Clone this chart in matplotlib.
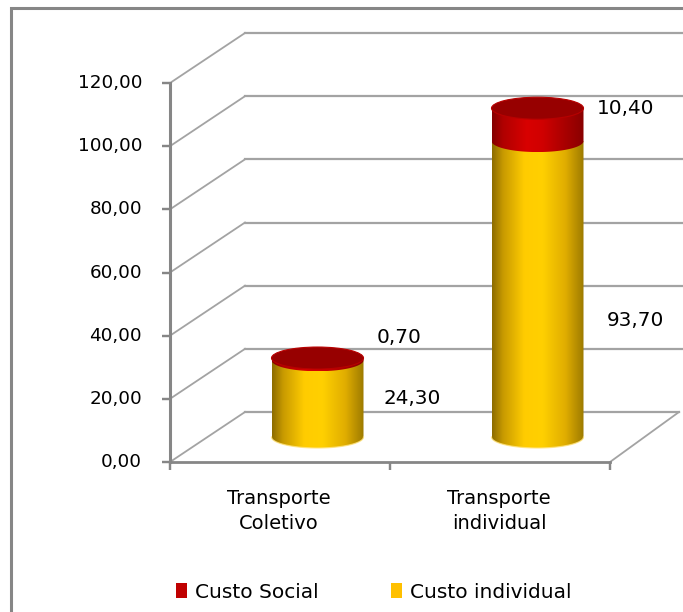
import numpy as np
import matplotlib.pyplot as plt
from matplotlib.patches import Polygon, Ellipse, Rectangle
from matplotlib.colors import LinearSegmentedColormap

# Custo por passageiro: individual + social
categorias = ['Transporte\nColetivo', 'Transporte\nindividual']
custo_individual = [24.30, 93.70]
custo_social = [0.70, 10.40]
y_ticks = [0, 20, 40, 60, 80, 100, 120]
legenda = ['Custo Social', 'Custo individual']

plt.rcParams['font.family'] = ['DejaVu Sans']

fig = plt.figure(figsize=(6.83, 6.12), dpi=100)
ax = fig.add_axes([170 / 683, 150 / 612, 440 / 683, 379 / 612])
n = len(categorias)
ax.set_xlim(0, n)
ax.set_ylim(0, 120)
ax.axis('off')

# pixel -> data helpers (fixed axes box)
sx = ax.bbox.width / n
sy = ax.bbox.height / 120
DX, DY = 75 / sx, 50 / sy          # depth of the 3D box
RX, RY = 46 / sx, 11 / sy          # cylinder radii

grid_c = '#a3a3a3'
axis_c = '#868686'

# back wall gridlines + left wall diagonals
for v in y_ticks:
    x_end = n + DX * 0.92 if v == 0 else n + DX
    ax.plot([DX, x_end], [v + DY, v + DY], color=grid_c, lw=1.6,
            clip_on=False, zorder=1)
    ax.plot([0, DX], [v, v + DY], color=grid_c, lw=1.3, clip_on=False, zorder=1)
    ax.plot([0, 0], [v, v], marker=0, ms=6, mew=1.6, color=axis_c, clip_on=False)
    ax.annotate(f'{v:.2f}'.replace('.', ','), (0, v), xytext=(-28, 0),
                textcoords='offset pixels', ha='right', va='center', fontsize=13.2)

# floor edges and front axis
ax.plot([0, n], [0, 0], color=axis_c, lw=2, clip_on=False, zorder=2)
ax.plot([n, n + DX * 0.92], [0, DY], color=grid_c, lw=1.3, clip_on=False, zorder=1)
ax.plot([0, 0], [0, 120], color=axis_c, lw=2.2, clip_on=False, zorder=2)
for k in range(n + 1):
    ax.plot([k, k], [0, 0], marker=3, ms=6, mew=1.6, color=axis_c, clip_on=False)

amarelo = LinearSegmentedColormap.from_list('amarelo', [
    (0.0, '#8c6c00'), (0.12, '#c89a00'), (0.35, '#ffcc00'), (0.55, '#ffd000'),
    (0.8, '#e0ad00'), (1.0, '#9c7a00')])
vermelho = LinearSegmentedColormap.from_list('vermelho', [
    (0.0, '#840000'), (0.12, '#b00000'), (0.38, '#d80000'), (0.55, '#d00000'),
    (0.8, '#a80000'), (1.0, '#880000')])
grad = np.linspace(0, 1, 256).reshape(1, -1)


def cilindro(xc, ya, yb, cmap, rim=None):
    t = np.linspace(np.pi, 2 * np.pi, 80)
    lower = np.column_stack([xc + RX * np.cos(t), ya + RY * np.sin(t)])
    verts = np.vstack([[xc - RX, yb], lower, [xc + RX, yb]])
    body = Polygon(verts, closed=True, fc='none', ec='none')
    ax.add_patch(body)
    im = ax.imshow(grad, cmap=cmap, extent=[xc - RX, xc + RX, ya - RY, yb + RY],
                   aspect='auto', zorder=3, interpolation='bilinear')
    im.set_clip_path(body)
    if rim:
        ax.plot(lower[:, 0], lower[:, 1], color=rim, lw=0.9, alpha=0.8, zorder=3.5)


for i, (ind, soc) in enumerate(zip(custo_individual, custo_social)):
    xc = i + 0.5 + DX / 2
    y0 = DY / 2
    cilindro(xc, y0, y0 + ind, amarelo, rim='#ffe27a')
    cilindro(xc, y0 + ind, y0 + ind + soc, vermelho)
    ax.add_patch(Ellipse((xc, y0 + ind + soc), 2 * RX, 2 * RY, fc='#970000',
                         ec='#b80000', lw=0.8, zorder=4))

# value labels
offsets_ind = [(95, 0), (98, -31)]
offsets_soc = [(82, 22), (88, 16)]
for i, (ind, soc) in enumerate(zip(custo_individual, custo_social)):
    xc = i + 0.5 + DX / 2
    y0 = DY / 2
    ax.annotate(f'{ind:.2f}'.replace('.', ','), (xc, y0 + ind / 2),
                xytext=offsets_ind[i], textcoords='offset pixels',
                ha='center', va='center', fontsize=14.4, zorder=5)
    ax.annotate(f'{soc:.2f}'.replace('.', ','), (xc, y0 + ind + soc / 2),
                xytext=offsets_soc[i], textcoords='offset pixels',
                ha='center', va='center', fontsize=14.4, zorder=5)

# category labels
for i, cat in enumerate(categorias):
    ax.annotate(cat, (i + 0.5, 0), xytext=(-1, -49), textcoords='offset pixels',
                ha='center', va='center', fontsize=14, linespacing=1.4)

ax.set_xlim(0, n)
ax.set_ylim(0, 120)

# legend
handles = [Rectangle((0, 0), 1, 1, fc='#c00000'), Rectangle((0, 0), 1, 1, fc='#ffc000')]
fig.legend(handles, legenda, loc='center', bbox_to_anchor=(374 / 683, 1 - 592 / 612),
           ncol=2, frameon=False, fontsize=14.5, handlelength=0.55, handleheight=0.7,
           handletextpad=0.4, columnspacing=3.6)

# outer chart frame
fig.patches.append(Rectangle((11 / 683, -0.1), 1.2, 1.1 - 8 / 612, transform=fig.transFigure,
                             fill=False, ec='#868686', lw=2.2))

fig.savefig('out.png', dpi=100)
